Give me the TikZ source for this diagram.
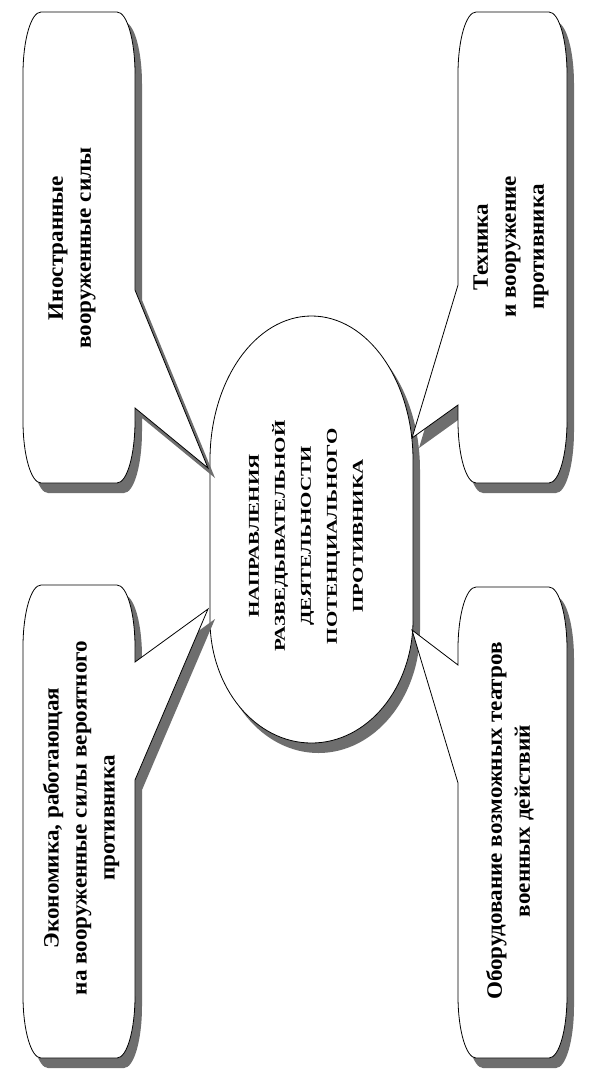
\documentclass[tikz,border=0pt]{standalone}
\usepackage{fontspec}
\setmainfont{Liberation Serif}
\newfontfamily\ellfont[FakeStretch=1.4]{Liberation Serif}
\newfontfamily\boxfont[FakeStretch=1.05]{Liberation Serif}
\usetikzlibrary{shadows}
\definecolor{shadowgray}{HTML}{6E6E6E}
\tikzset{
  x=1pt, y=-1pt,
  figshape/.style={draw=black, line width=0.8pt, fill=white,
    drop shadow={shadow xshift=7pt, shadow yshift=-10pt, opacity=1, fill=shadowgray}},
  boxtext/.style={rotate=90, align=center, inner sep=0pt,
    font=\boxfont\bfseries\fontsize{22}{28}\selectfont},
  elltext/.style={rotate=90, align=center, inner sep=0pt,
    font=\ellfont\bfseries\fontsize{15}{26}\selectfont},
}
\begin{document}
\begin{tikzpicture}
\useasboundingbox[fill=white] (0,0) rectangle (595,1081);
% central rounded shape
\path[figshape] (210,460) arc[start angle=180, end angle=360, x radius=101.5, y radius=144]
  -- (413,620) arc[start angle=0, end angle=180, x radius=101.5, y radius=123] -- cycle;
% top-left callout (pointer on the right side)
\path[figshape] (41,12) -- (117,12) arc[start angle=-90, end angle=0, x radius=18, y radius=62]
  -- (135,290) -- (208,468) -- (135,408)
  -- (135,421) arc[start angle=0, end angle=90, x radius=18, y radius=62]
  -- (41,483) arc[start angle=90, end angle=180, x radius=18, y radius=62]
  -- (23,74) arc[start angle=180, end angle=270, x radius=18, y radius=62] -- cycle;
% bottom-left callout
\path[figshape] (41,585) -- (117,585) arc[start angle=-90, end angle=0, x radius=18, y radius=62]
  -- (135,662) -- (208,609) -- (135,780)
  -- (135,996) arc[start angle=0, end angle=90, x radius=18, y radius=62]
  -- (41,1058) arc[start angle=90, end angle=180, x radius=18, y radius=62]
  -- (23,647) arc[start angle=180, end angle=270, x radius=18, y radius=62] -- cycle;
% top-right callout (pointer on the left side)
\path[figshape] (476,12) -- (549,12) arc[start angle=-90, end angle=0, x radius=18, y radius=62]
  -- (567,421) arc[start angle=0, end angle=90, x radius=18, y radius=62]
  -- (476,483) arc[start angle=90, end angle=180, x radius=18, y radius=62]
  -- (458,405) -- (412,438) -- (458,285)
  -- (458,74) arc[start angle=180, end angle=270, x radius=18, y radius=62] -- cycle;
% bottom-right callout
\path[figshape] (476,587) -- (549,587) arc[start angle=-90, end angle=0, x radius=18, y radius=62]
  -- (567,996) arc[start angle=0, end angle=90, x radius=18, y radius=62]
  -- (476,1058) arc[start angle=90, end angle=180, x radius=18, y radius=62]
  -- (458,783) -- (412,630) -- (458,665)
  -- (458,649) arc[start angle=180, end angle=270, x radius=18, y radius=62] -- cycle;
% texts
\node[elltext] (center) at (306,536) {НАПРАВЛЕНИЯ\\РАЗВЕДЫВАТЕЛЬНОЙ\\ДЕЯТЕЛЬНОСТИ\\ПОТЕНЦИАЛЬНОГО\\ПРОТИВНИКА};
\node[boxtext] (tl) at (72,248) {Иностранные\\вооруженные силы};
\node[boxtext] (tr) at (511,247) {Техника\\и вооружение\\противника};
\node[boxtext] (bl) at (81,818) {Экономика, работающая\\на вооруженные силы вероятного\\противника};
\node[boxtext] (br) at (510,821) {Оборудование возможных театров\\военных действий};
\end{tikzpicture}
\end{document}
